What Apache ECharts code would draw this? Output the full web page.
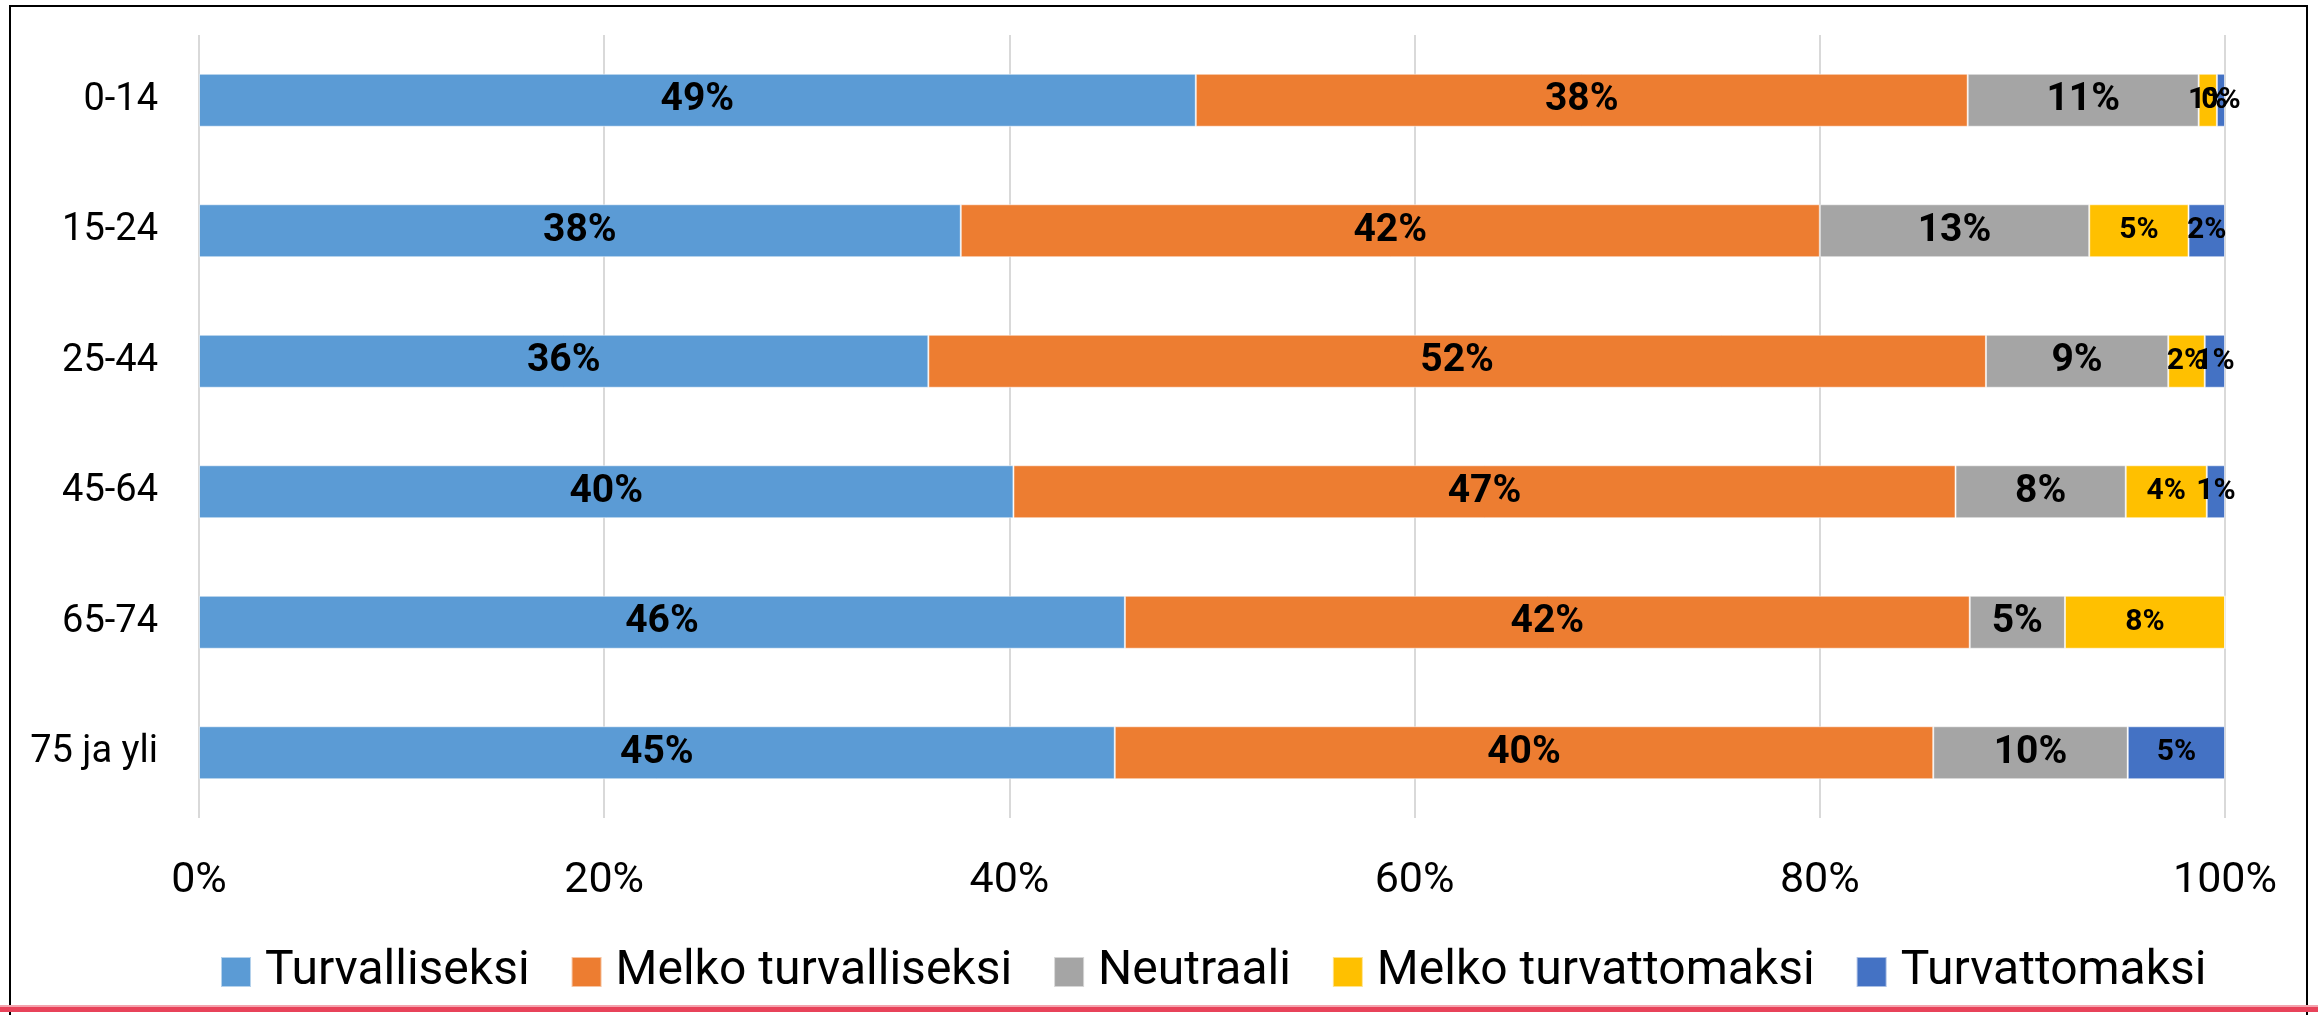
<!DOCTYPE html>
<html>
<head>
<meta charset="utf-8">
<script src="https://cdn.jsdelivr.net/npm/echarts@6/dist/echarts.min.js"></script>
<style>
  html, body { margin: 0; padding: 0; background: #fff; }
  #chart { width: 2318px; height: 1015px; }
</style>
</head>
<body>
<div id="chart"></div>
<script>
// ikäryhmät
var categories = ['0-14', '15-24', '25-44', '45-64', '65-74', '75 ja yli']
var seriesNames = ['Turvalliseksi', 'Melko turvalliseksi', 'Neutraali', 'Melko turvattomaksi', 'Turvattomaksi']
// osuudet prosentteina
var turvalliseksi = [49.2, 37.6, 36.0, 40.2, 45.7, 45.2]
var melkoTurvalliseksi = [38.1, 42.4, 52.2, 46.5, 41.7, 40.4]
var neutraali = [11.4, 13.3, 9.0, 8.4, 4.7, 9.6]
var melkoTurvattomaksi = [0.9, 4.9, 1.8, 4.0, 7.9, 0]
var turvattomaksi = [0.4, 1.8, 1.0, 0.9, 0, 4.8]
var xTicks = [0, 20, 40, 60, 80, 100]

var colors = ['#5B9BD5', '#ED7D31', '#A5A5A5', '#FFC000', '#4472C4']
var seriesData = [turvalliseksi, melkoTurvalliseksi, neutraali, melkoTurvattomaksi, turvattomaksi]
// pienemmät otsikot kahdelle viimeiselle sarjalle
var labelSizes = [39, 39, 39, 30, 30]

var myChart = echarts.init(document.getElementById('chart'))

var series = seriesData.map(function (data, i) {
  return {
    name: seriesNames[i],
    type: 'bar',
    stack: 'total',
    data: data,
    barWidth: 53,
    itemStyle: {
      color: colors[i],
      borderColor: 'rgba(255,255,255,0.55)',
      borderWidth: 1
    },
    label: {
      show: true,
      position: 'inside',
      color: '#000',
      fontFamily: 'Roboto',
      fontWeight: 'bold',
      fontSize: labelSizes[i],
      formatter: function (p) {
        return p.value ? Math.round(p.value) + '%' : ''
      }
    }
  }
})

var option = {
  animation: false,
  backgroundColor: '#fff',
  textStyle: { fontFamily: 'Roboto' },
  grid: {
    left: 199,
    right: 93,
    top: 35,
    bottom: 197,
    containLabel: false
  },
  legend: {
    data: seriesNames,
    left: 215,
    top: 943,
    icon: 'rect',
    itemWidth: 30,
    itemHeight: 30,
    itemGap: 41,
    textStyle: {
      color: '#000',
      fontFamily: 'Roboto',
      fontSize: 48,
      padding: [0, 0, 0, 9]
    }
  },
  xAxis: {
    type: 'value',
    min: xTicks[0],
    max: xTicks[xTicks.length - 1],
    interval: xTicks[1] - xTicks[0],
    axisLine: { show: false },
    axisTick: { show: false },
    splitLine: {
      show: true,
      lineStyle: { color: '#D9D9D9', width: 2 }
    },
    axisLabel: {
      color: '#000',
      fontFamily: 'Roboto',
      fontSize: 43,
      margin: 42,
      formatter: '{value}%'
    }
  },
  yAxis: {
    type: 'category',
    data: categories,
    inverse: true,
    axisLine: { show: false },
    axisTick: { show: false },
    splitLine: { show: false },
    axisLabel: {
      color: '#000',
      fontFamily: 'Roboto',
      fontSize: 38,
      margin: 41
    }
  },
  series: series,
  graphic: [
    {
      type: 'rect',
      silent: true,
      shape: { x: 10, y: 6, width: 2297, height: 1020 },
      style: { fill: 'none', stroke: '#000', lineWidth: 2 }
    },
    {
      type: 'rect',
      silent: true,
      shape: { x: 0, y: 1007, width: 2318, height: 5 },
      style: { fill: '#E8435A' }
    },
    {
      type: 'rect',
      silent: true,
      shape: { x: 0, y: 1005, width: 2318, height: 2 },
      style: { fill: '#F4A3AE' }
    }
  ]
}

myChart.setOption(option)
</script>
</body>
</html>
